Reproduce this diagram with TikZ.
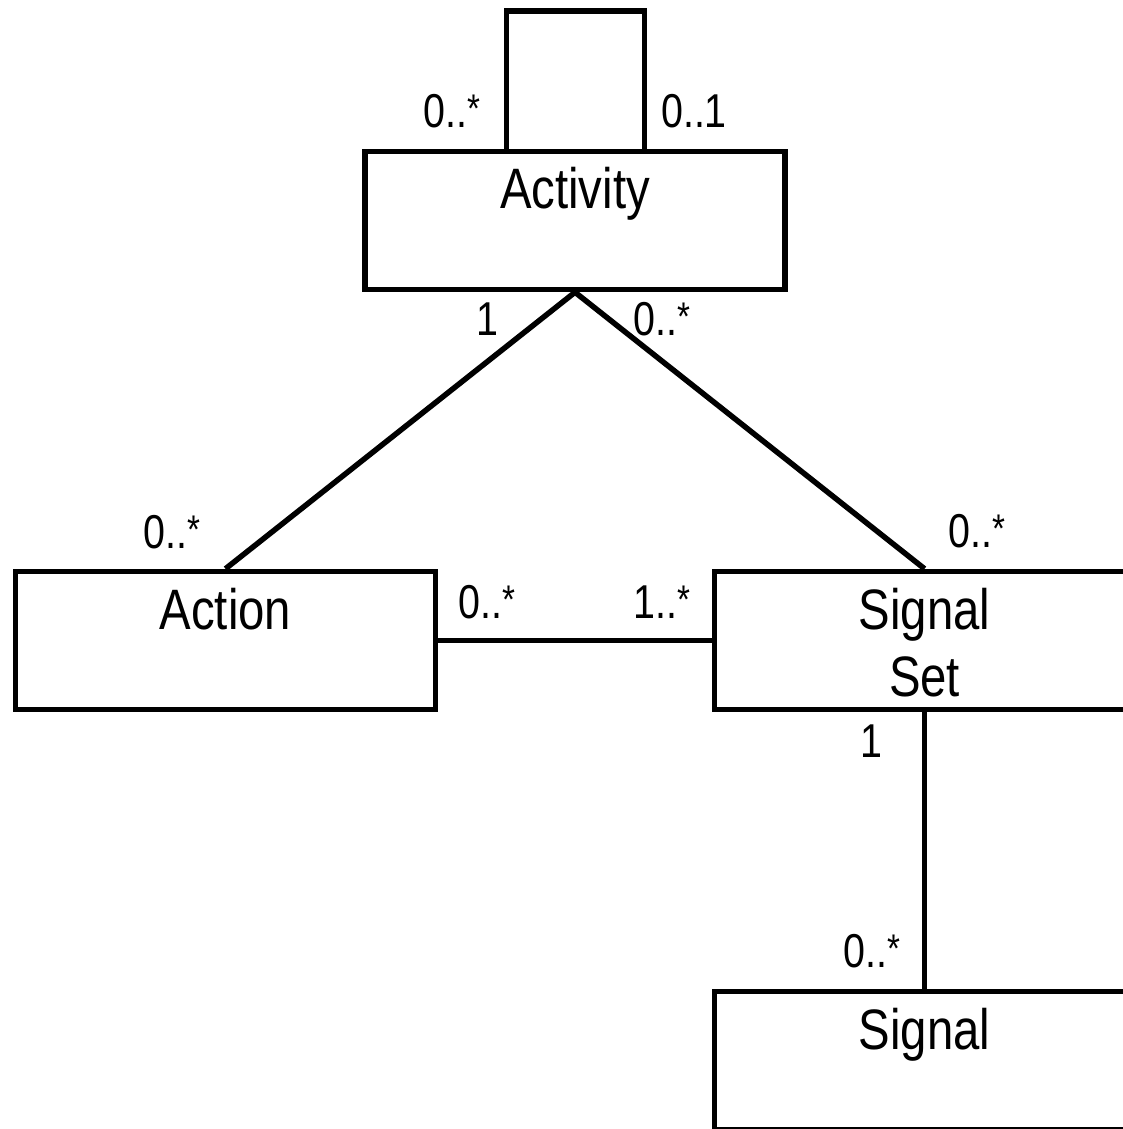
\documentclass[tikz,border=0pt]{standalone}
\usepackage{fontspec}
\setmainfont{Liberation Sans}[FakeStretch=0.83]
\usetikzlibrary{positioning}
\newcommand{\mstar}{\raisebox{5pt}{\fontsize{40}{40}\selectfont *}}
\tikzstyle{umlclass} = [rectangle, draw=black, line width=5.5pt, minimum width=420pt, minimum height=138pt, inner sep=0pt]
\tikzstyle{classname} = [anchor=north, inner sep=0pt, align=center, font=\fontsize{57}{67}\selectfont]
\tikzstyle{mult} = [anchor=base, inner sep=0pt, font=\fontsize{47.5}{57}\selectfont]
\tikzstyle{assoc} = [line width=5.5pt, line join=miter]

\begin{document}
\begin{tikzpicture}[x=1pt,y=-1pt,node distance=420pt]
\useasboundingbox (0,0) rectangle (1122,1129);
\node (act) [umlclass] at (575,220.5) {};
\node (action) [umlclass, below of=act, xshift=-349.5pt] {};
\node (sigset) [umlclass, below of=act, xshift=349.5pt] {};
\node (sig) [umlclass, below of=sigset] {};
\node (actname) [classname, below=18pt of act.north] {Activity};
\node (actionname) [classname, below=19pt of action.north] {Action};
\node (sigsetname) [classname, below=19pt of sigset.north] {Signal\\Set};
\node (signame) [classname, below=19pt of sig.north] {Signal};
% self association
\coordinate (loopl) at (506.5,11);
\coordinate (loopr) at (644.5,11);
\draw [assoc] (act.north -| loopl) -- (loopl) -- (loopr) -- (act.north -| loopr);
\draw [assoc] (action.north) -- (act.south) -- (sigset.north);
\draw [assoc] (action.east) -- (sigset.west);
\draw [assoc] (sigset.south) -- (sig.north);
% multiplicities
\node (mloopl) [mult] at (452,128) {0..\mstar};
\node (mloopr) [mult] at (694,128) {0..1};
\node (mactl) [mult] at (487,335) {1};
\node (mactr) [mult] at (662,335) {0..\mstar};
\node (maction) [mult] at (172,548) {0..\mstar};
\node (msigset) [mult] at (977,547) {0..\mstar};
\node (mactsig) [mult] at (487,618) {0..\mstar};
\node (msigact) [mult] at (662,618) {1..\mstar};
\node (msetsig) [mult] at (871,757) {1};
\node (msig) [mult] at (872,967) {0..\mstar};
\end{tikzpicture}
\end{document}
